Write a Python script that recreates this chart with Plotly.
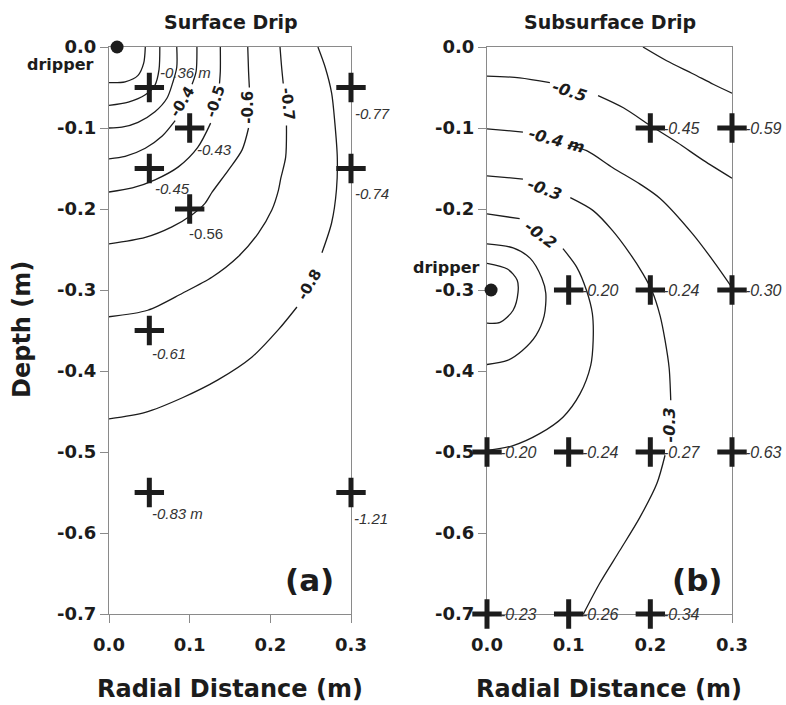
import plotly.graph_objects as go

# ---------------- Panel (a): Surface drip ----------------
# contour lines (None = gap where the contour label sits)
a_l1_x = [0.045, 0.043, 0.036, 0.020, 0.0]
a_l1_y = [0.0, -0.020, -0.035, -0.043, -0.044]
a_l2_x = [0.063, 0.062, 0.057, 0.045, 0.024, 0.0]
a_l2_y = [0.0, -0.028, -0.047, -0.059, -0.068, -0.072]
a_l3_x = [0.084, 0.084, 0.079, 0.072, 0.057, 0.036, 0.016, 0.0]
a_l3_y = [0.0, -0.025, -0.044, -0.063, -0.080, -0.093, -0.099, -0.100]
a_l4_x = [0.109, 0.108, 0.103, None, 0.082, 0.066, 0.045, 0.020, 0.0]
a_l4_y = [0.0, -0.030, -0.046, None, -0.091, -0.110, -0.125, -0.135, -0.138]
a_l5_x = [0.138, 0.138, 0.137, None, 0.126, 0.110, 0.086, 0.057, 0.029, 0.0]
a_l5_y = [0.0, -0.030, -0.045, None, -0.094, -0.124, -0.148, -0.164, -0.174, -0.179]
a_l6_x = [0.172, 0.173, 0.174, None, 0.173, 0.165, 0.148, 0.128, 0.119, 0.103, 0.078, 0.045, 0.0]
a_l6_y = [0.0, -0.030, -0.050, None, -0.100, -0.127, -0.152, -0.179, -0.193, -0.207, -0.222, -0.235, -0.243]
a_l7_x = [0.212, 0.214, 0.216, None, 0.220, 0.219, 0.213, 0.210, 0.202, 0.185, 0.160, 0.128, 0.091, 0.048, 0.0]
a_l7_y = [0.0, -0.025, -0.045, None, -0.097, -0.136, -0.162, -0.177, -0.201, -0.230, -0.259, -0.284, -0.304, -0.325, -0.333]
a_l8_x = [0.259, 0.268, 0.276, 0.280, 0.283, 0.282, 0.276, 0.264, None, 0.233, 0.210, 0.177, 0.135, 0.091, 0.045, 0.0]
a_l8_y = [0.0, -0.025, -0.057, -0.094, -0.136, -0.176, -0.217, -0.254, None, -0.321, -0.349, -0.383, -0.411, -0.433, -0.451, -0.459]

a_lab_text = ["-0.4", "-0.5", "-0.6", "-0.7", "-0.8"]
a_lab_x = [0.0905, 0.132, 0.172, 0.222, 0.249]
a_lab_y = [-0.068, -0.067, -0.074, -0.070, -0.293]

a_pt_x = [0.05, 0.10, 0.05, 0.10, 0.05, 0.05, 0.30, 0.30, 0.30]
a_pt_y = [-0.05, -0.10, -0.15, -0.20, -0.35, -0.55, -0.05, -0.15, -0.55]
a_pt_text = ["-0.36 m", "-0.43", "-0.45", "-0.56", "-0.61", "-0.83 m", "-0.77", "-0.74", "-1.21"]

a_drip_x = [0.010]
a_drip_y = [0.0]

# ---------------- Panel (b): Subsurface drip ----------------
b_l6_x = [0.191, 0.220, 0.252, 0.277, 0.300]
b_l6_y = [0.0, -0.017, -0.033, -0.046, -0.057]
b_l5_x = [0.0, 0.040, 0.077, None, 0.136, 0.167, 0.200, 0.233, 0.265, 0.300]
b_l5_y = [-0.036, -0.038, -0.044, None, -0.060, -0.075, -0.097, -0.118, -0.140, -0.162]
b_l4_x = [0.0, 0.044, None, 0.099, 0.122, 0.154, 0.187, 0.212, 0.252, 0.277, 0.300]
b_l4_y = [-0.101, -0.105, None, -0.121, -0.128, -0.149, -0.169, -0.187, -0.231, -0.264, -0.297]
b_l3_x = [0.0, 0.044, None, 0.102, 0.130, 0.154, 0.175, 0.191, 0.202, 0.212, 0.218, 0.223, 0.225,
          None, 0.218, 0.208, 0.187, 0.163, 0.138, 0.118]
b_l3_y = [-0.159, -0.163, None, -0.186, -0.202, -0.227, -0.255, -0.280, -0.301, -0.332, -0.362, -0.396, -0.436,
          None, -0.504, -0.539, -0.581, -0.621, -0.662, -0.700]
b_l2_x = [0.0, 0.040, None, 0.093, 0.110, 0.122, 0.129, 0.130, 0.127, 0.114, 0.093, 0.065, 0.032, 0.0]
b_l2_y = [-0.206, -0.212, None, -0.249, -0.272, -0.301, -0.329, -0.362, -0.393, -0.428, -0.457, -0.477, -0.492, -0.498]
b_l1b_x = [0.0, 0.032, 0.053, 0.067, 0.072, 0.070, 0.060, 0.043, 0.025, 0.0]
b_l1b_y = [-0.243, -0.248, -0.261, -0.285, -0.304, -0.332, -0.356, -0.375, -0.387, -0.392]
b_l1a_x = [0.0, 0.025, 0.037, 0.038, 0.032, 0.016, 0.0]
b_l1a_y = [-0.267, -0.274, -0.288, -0.303, -0.325, -0.340, -0.341]

b_lab_text = ["-0.5", "-0.4 m", "-0.3", "-0.2", "-0.3"]
b_lab_x = [0.1016, 0.0857, 0.071, 0.065, 0.224]
b_lab_y = [-0.055, -0.116, -0.176, -0.232, -0.466]

b_pt_x = [0.2, 0.3, 0.1, 0.2, 0.3, 0.0, 0.1, 0.2, 0.3, 0.0, 0.1, 0.2]
b_pt_y = [-0.1, -0.1, -0.3, -0.3, -0.3, -0.5, -0.5, -0.5, -0.5, -0.7, -0.7, -0.7]
b_pt_text = ["-0.45", "-0.59", "-0.20", "-0.24", "-0.30", "-0.20", "-0.24", "-0.27", "-0.63",
             "-0.23", "-0.26", "-0.34"]

b_drip_x = [0.005]
b_drip_y = [-0.3]

x_ticks = [0.0, 0.1, 0.2, 0.3]
x_ticktext = ["0.0", "0.1", "0.2", "0.3"]
y_ticks = [0.0, -0.1, -0.2, -0.3, -0.4, -0.5, -0.6, -0.7]
y_ticktext = ["0.0", "-0.1", "-0.2", "-0.3", "-0.4", "-0.5", "-0.6", "-0.7"]

# ---------------- styles / layout helpers ----------------
W, H = 786, 705
BOLD = "DejaVu Sans"
PLAIN = "Liberation Sans, Arial, sans-serif"
INK = "#1c1c1c"
AXC = "#8a8a8a"


def px(x):
    return x / W


def py(y):
    return 1 - y / H


a_lab_angle = [-58, -72, -90, 84, -60]
b_lab_angle = [18, 15, 20, 36, -90]
# pixel offsets of the value labels from their crosses (panel a)
a_pt_shift = [(9, 15), (5, -21), (4, -20), (-3, -24), (1, -23), (1, -21), (2, -26), (2, -25), (1, -26)]
a_pt_italic = [True, True, True, False, True, True, True, True, True]

fig = go.Figure()

line_style = dict(color=INK, width=1.3, shape="spline", smoothing=0.8)
for xs, ys in [(a_l1_x, a_l1_y), (a_l2_x, a_l2_y), (a_l3_x, a_l3_y), (a_l4_x, a_l4_y),
               (a_l5_x, a_l5_y), (a_l6_x, a_l6_y), (a_l7_x, a_l7_y), (a_l8_x, a_l8_y)]:
    fig.add_trace(go.Scatter(x=xs, y=ys, mode="lines", line=line_style, connectgaps=False,
                             xaxis="x", yaxis="y", showlegend=False, hoverinfo="skip"))
for xs, ys in [(b_l6_x, b_l6_y), (b_l5_x, b_l5_y), (b_l4_x, b_l4_y), (b_l3_x, b_l3_y),
               (b_l2_x, b_l2_y), (b_l1b_x, b_l1b_y), (b_l1a_x, b_l1a_y)]:
    fig.add_trace(go.Scatter(x=xs, y=ys, mode="lines", line=line_style, connectgaps=False,
                             xaxis="x2", yaxis="y2", showlegend=False, hoverinfo="skip"))

cross = dict(symbol="cross-thin", size=21, color=INK, line=dict(color=INK, width=5))
fig.add_trace(go.Scatter(x=a_pt_x, y=a_pt_y, mode="markers", marker=cross, cliponaxis=False,
                         xaxis="x", yaxis="y", showlegend=False))
fig.add_trace(go.Scatter(x=b_pt_x, y=b_pt_y, mode="markers", marker=cross, cliponaxis=False,
                         xaxis="x2", yaxis="y2", showlegend=False))
dot = dict(symbol="circle", size=13, color=INK)
fig.add_trace(go.Scatter(x=a_drip_x, y=a_drip_y, mode="markers", marker=dot, cliponaxis=False,
                         xaxis="x", yaxis="y", showlegend=False))
fig.add_trace(go.Scatter(x=b_drip_x, y=b_drip_y, mode="markers", marker=dot, cliponaxis=False,
                         xaxis="x2", yaxis="y2", showlegend=False))

ann = []
# contour labels
for t, x, y, a in zip(a_lab_text, a_lab_x, a_lab_y, a_lab_angle):
    ann.append(dict(x=x, y=y, xref="x", yref="y", text=t, textangle=a, showarrow=False,
                    xanchor="center", yanchor="middle",
                    font=dict(family=BOLD, size=15, color=INK, weight="bold")))
for t, x, y, a in zip(b_lab_text, b_lab_x, b_lab_y, b_lab_angle):
    ann.append(dict(x=x, y=y, xref="x2", yref="y2", text=t, textangle=a, showarrow=False,
                    xanchor="center", yanchor="middle",
                    font=dict(family=BOLD, size=16, color=INK, weight="bold", style="italic")))
# measured values
for t, x, y, s, it in zip(a_pt_text, a_pt_x, a_pt_y, a_pt_shift, a_pt_italic):
    ann.append(dict(x=x, y=y, xref="x", yref="y", text=t, showarrow=False, xanchor="left",
                    yanchor="middle", xshift=s[0], yshift=s[1],
                    font=dict(family=PLAIN, size=15, color="#333333",
                              style="italic" if it else "normal")))
for t, x, y in zip(b_pt_text, b_pt_x, b_pt_y):
    ann.append(dict(x=x, y=y, xref="x2", yref="y2", text=t, showarrow=False, xanchor="left",
                    yanchor="middle", xshift=11,
                    font=dict(family=PLAIN, size=16, color="#333333", style="italic")))


def bfont(s):
    return dict(family=BOLD, size=s, color=INK, weight="bold")


def pann(x, y, text, size, angle=0):
    return dict(x=px(x), y=py(y), xref="paper", yref="paper", text=text, textangle=angle,
                showarrow=False, xanchor="center", yanchor="middle", font=bfont(size))


ann += [
    pann(231, 22, "Surface Drip", 19),
    pann(610, 22, "Subsurface Drip", 19),
    pann(22, 330, "Depth (m)", 24, -90),
    pann(230, 689, "Radial Distance (m)", 24),
    pann(609, 689, "Radial Distance (m)", 24),
    pann(309, 580, "(a)", 31),
    pann(697, 580, "(b)", 31),
    pann(60, 64, "dripper", 16),
    pann(446, 267, "dripper", 16),
]

xax = dict(range=[0, 0.3], tickvals=x_ticks, ticktext=x_ticktext, showgrid=False, zeroline=False,
           showline=True, linecolor=AXC, linewidth=1, mirror=True, ticks="outside", ticklen=8,
           tickcolor=AXC, tickfont=bfont(18), fixedrange=True, automargin=False,
           layer="below traces", ticklabelstandoff=6)
yax = dict(range=[-0.7, 0], tickvals=y_ticks, ticktext=y_ticktext, showgrid=False, zeroline=False,
           showline=True, linecolor=AXC, linewidth=1, mirror=True, ticks="outside", ticklen=8,
           tickcolor=AXC, tickfont=bfont(18), fixedrange=True, automargin=False,
           layer="below traces")

fig.update_layout(
    width=W, height=H, margin=dict(l=0, r=0, t=0, b=0, pad=0, autoexpand=False),
    paper_bgcolor="white", plot_bgcolor="white", showlegend=False,
    xaxis=dict(xax, domain=[px(109), px(351)], anchor="y"),
    yaxis=dict(yax, domain=[py(614), py(47)], anchor="x"),
    xaxis2=dict(xax, domain=[px(487), px(732)], anchor="y2"),
    yaxis2=dict(yax, domain=[py(614), py(47)], anchor="x2"),
    annotations=ann,
)

fig.write_html("out.html")
